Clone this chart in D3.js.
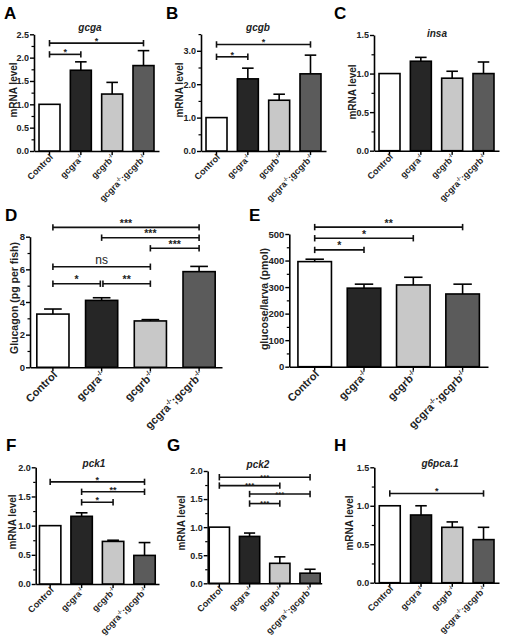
<!DOCTYPE html>
<html><head><meta charset="utf-8">
<script src="https://cdn.jsdelivr.net/npm/d3@7"></script>
<style>
html,body{margin:0;padding:0;background:#fff;}
svg{display:block;}
text{font-family:"Liberation Sans",Arial,sans-serif;}
</style></head>
<body>
<svg id="fig" width="505" height="643"></svg>
<script>
// ---------------- DATA ----------------
const groups = ["Control", "gcgra", "gcgrb", "gcgra;gcgrb"];
// label parts: [text, isSuperscript]
const xLabelParts = [
  [["Control", false]],
  [["gcgra", false], ["-/-", true]],
  [["gcgrb", false], ["-/-", true]],
  [["gcgra", false], ["-/-", true], [";gcgrb", false], ["-/-", true]]
];
const barFills = ["#ffffff", "#262626", "#c8c8c8", "#5b5b5b"];

// A: gcga mRNA
const gcgaMean = [1.00, 1.73, 1.22, 1.83];
const gcgaErr  = [0.00, 0.18, 0.25, 0.32];
const gcgaSig  = [[0, 1, 2.07, "*"], [0, 3, 2.31, "*"]];
// B: gcgb mRNA
const gcgbMean = [1.00, 2.16, 1.52, 2.31];
const gcgbErr  = [0.00, 0.32, 0.18, 0.56];
const gcgbSig  = [[0, 1, 2.82, "*"], [0, 3, 3.19, "*"]];
// C: insa mRNA
const insaMean = [1.00, 1.16, 0.94, 1.00];
const insaErr  = [0.00, 0.05, 0.09, 0.15];
const insaSig  = [];
// D: Glucagon (pg per fish)
const glucagonMean = [3.26, 4.10, 2.84, 5.86];
const glucagonErr  = [0.31, 0.16, 0.08, 0.32];
const glucagonSig  = [[0, 3, 8.57, "***"], [1, 3, 7.94, "***"], [2, 3, 7.29, "***"],
                      [0, 2, 6.16, "ns"], [0, 1, 5.12, "*"], [1, 2, 5.12, "**"]];
// E: glucose/larva (pmol)
const glucoseMean = [396, 296, 308, 274];
const glucoseErr  = [9, 15, 29, 37];
const glucoseSig  = [[0, 3, 526, "**"], [0, 2, 484, "*"], [0, 1, 440, "*"]];
// F: pck1 mRNA
const pck1Mean = [1.00, 1.16, 0.73, 0.49];
const pck1Err  = [0.00, 0.06, 0.02, 0.22];
const pck1Sig  = [[0, 3, 1.75, "*"], [1, 3, 1.58, "**"], [1, 2, 1.40, "*"]];
// G: pck2 mRNA
const pck2Mean = [1.00, 0.835, 0.356, 0.18];
const pck2Err  = [0.00, 0.06, 0.115, 0.07];
const pck2Sig  = [[0, 3, 1.89, "***"], [0, 2, 1.74, "***"], [1, 3, 1.59, "***"], [1, 2, 1.42, "***"]];
// H: g6pca.1 mRNA
const g6pcaMean = [1.00, 0.88, 0.72, 0.56];
const g6pcaErr  = [0.00, 0.12, 0.07, 0.16];
const g6pcaSig  = [[0, 3, 1.16, "*"]];

// tick labels
const ticksA = [0, 0.5, 1.0, 1.5, 2.0, 2.5];
const ticksB = [0, 1, 2, 3];
const ticks15 = [0, 0.5, 1.0, 1.5];
const ticksD = [0, 2, 4, 6, 8];
const ticksE = [0, 100, 200, 300, 400, 500];
const ticks20 = [0, 0.5, 1.0, 1.5, 2.0];

// ---------------- PANELS ----------------
const panels = [
  {letter:"A", lx:4, ly:19, title:"gcga", tx:90, ty:31, mean:gcgaMean, err:gcgaErr, sig:gcgaSig,
   yMax:2.5, ticks:ticksA, minorStep:0.25, fmt:".1f", ylabel:"mRNA level", ylx:13, yly:90,
   x0:34, x1:159, yb:151, yt:34.3, pi:0.33, po:0.16, fs:9, xfs:9, sfs:9, sdy:1, yfs:10},
  {letter:"B", lx:166, ly:19, title:"gcgb", tx:258, ty:31, mean:gcgbMean, err:gcgbErr, sig:gcgbSig,
   yMax:3.5, ticks:ticksB, minorStep:0.5, fmt:".1f", ylabel:"mRNA level", ylx:179, yly:90,
   x0:201, x1:326, yb:151, yt:34.1, pi:0.33, po:0.16, fs:9, xfs:9, sfs:9, sdy:1, yfs:10},
  {letter:"C", lx:334, ly:19, title:"insa", tx:437, ty:37, mean:insaMean, err:insaErr, sig:insaSig,
   yMax:1.5, ticks:ticks15, minorStep:0.25, fmt:".1f", ylabel:"mRNA level", ylx:352.5, yly:92,
   x0:374, x1:499, yb:150.7, yt:35, pi:0.33, po:0.16, fs:9, xfs:9, sfs:9, sdy:1, yfs:10},
  {letter:"D", lx:5, ly:221, title:"", mean:glucagonMean, err:glucagonErr, sig:glucagonSig,
   yMax:8, ticks:ticksD, minorStep:1, fmt:"d", ylabel:"Glucagon (pg per fish)", ylx:14, yly:298,
   x0:30, x1:222, yb:367.3, yt:236.7, pi:0.34, po:0.14, fs:9.5, xfs:11, sfs:10.5, sdy:-0.5, yfs:10.5},
  {letter:"E", lx:249, ly:221, title:"", mean:glucoseMean, err:glucoseErr, sig:glucoseSig,
   yMax:500, ticks:ticksE, minorStep:50, fmt:"d", ylabel:"glucose/larva (pmol)", ylx:264, yly:299,
   x0:289.3, x1:488, yb:366.7, yt:234, pi:0.32, po:0.175, fs:9.5, xfs:11, sfs:10.5, sdy:-0.5, yfs:10.5},
  {letter:"F", lx:6, ly:451, title:"pck1", tx:94, ty:467, mean:pck1Mean, err:pck1Err, sig:pck1Sig,
   yMax:2.0, ticks:ticks20, minorStep:0.25, fmt:".1f", ylabel:"mRNA level", ylx:12.5, yly:522,
   x0:35.7, x1:159, yb:584, yt:467.3, pi:0.32, po:0.12, fs:9, xfs:9, sfs:9, sdy:1, yfs:10},
  {letter:"G", lx:167, ly:451, title:"pck2", tx:258, ty:468, mean:pck2Mean, err:pck2Err, sig:pck2Sig,
   yMax:2.0, ticks:ticks20, minorStep:0.25, fmt:".1f", ylabel:"mRNA level", ylx:181, yly:523,
   x0:207.7, x1:321.7, yb:583.3, yt:471, pi:0.33, po:0.05, fs:9, xfs:9, sfs:8, sdy:2.5, yfs:10},
  {letter:"H", lx:334, ly:451, title:"g6pca.1", tx:440, ty:467, mean:g6pcaMean, err:g6pcaErr, sig:g6pcaSig,
   yMax:1.5, ticks:ticks15, minorStep:0.25, fmt:".1f", ylabel:"mRNA level", ylx:349, yly:523,
   x0:374.3, x1:499, yb:582.7, yt:467.3, pi:0.33, po:0.16, fs:9, xfs:9, sfs:9, sdy:1, yfs:10}
];

const svg = d3.select("#fig");
const SW = 1.6;

panels.forEach(p => {
  const g = svg.append("g");
  const x = d3.scaleBand().domain(groups).range([p.x0, p.x1]).paddingInner(p.pi).paddingOuter(p.po);
  const y = d3.scaleLinear().domain([0, p.yMax]).range([p.yb, p.yt]);
  const bw = x.bandwidth();

  // minor ticks
  const minor = d3.range(0, p.yMax + 1e-9, p.minorStep).filter(v => !p.ticks.some(t => Math.abs(t - v) < 1e-9));
  g.append("g").attr("transform", `translate(${p.x0},0)`)
    .call(d3.axisLeft(y).tickValues(minor).tickSize(2.5).tickSizeOuter(0).tickFormat(""))
    .call(a => a.select(".domain").remove())
    .call(a => a.selectAll("line").attr("stroke-width", 1.2));
  // major y axis
  const fmt = d3.format(p.fmt);
  g.append("g").attr("transform", `translate(${p.x0},0)`)
    .call(d3.axisLeft(y).tickValues(p.ticks).tickSize(4).tickSizeOuter(0).tickFormat(fmt).tickPadding(1))
    .call(a => a.select(".domain").attr("stroke-width", SW))
    .call(a => a.selectAll("line").attr("stroke-width", 1.4))
    .call(a => a.selectAll("text").attr("font-size", p.fs).attr("font-weight", "bold")
      .attr("font-family", '"Liberation Sans",Arial,sans-serif').attr("fill", "#222"));
  // x axis
  g.append("g").attr("transform", `translate(0,${p.yb})`)
    .call(d3.axisBottom(x).tickSize(4).tickSizeOuter(0).tickFormat(""))
    .call(a => a.select(".domain").attr("stroke-width", SW))
    .call(a => a.selectAll("line").attr("stroke-width", 1.4));

  // bars
  g.selectAll("rect.bar").data(groups).join("rect")
    .attr("class", "bar")
    .attr("x", d => x(d)).attr("width", bw)
    .attr("y", (d, i) => y(p.mean[i]))
    .attr("height", (d, i) => y(0) - y(p.mean[i]))
    .attr("fill", (d, i) => barFills[i])
    .attr("stroke", "#000").attr("stroke-width", SW);

  // error bars (upper)
  const cap = bw * 0.55;
  groups.forEach((d, i) => {
    if (!p.err[i]) return;
    const cx = x(d) + bw / 2;
    const top = y(p.mean[i] + p.err[i]);
    g.append("line").attr("x1", cx).attr("x2", cx).attr("y1", y(p.mean[i])).attr("y2", top)
      .attr("stroke", "#000").attr("stroke-width", SW);
    g.append("line").attr("x1", cx - cap / 2).attr("x2", cx + cap / 2).attr("y1", top).attr("y2", top)
      .attr("stroke", "#000").attr("stroke-width", SW);
  });

  // significance brackets
  p.sig.forEach(s => {
    const [i, j, h, lab] = s;
    let xa = x(groups[i]) + bw / 2, xb = x(groups[j]) + bw / 2;
    // separate brackets sharing an endpoint at the same height
    p.sig.forEach(o => {
      if (o === s || Math.abs(o[2] - h) > 1e-9) return;
      if (o[1] === i) xa += 1.3;
      if (o[0] === j) xb -= 1.3;
    });
    const yy = y(h);
    g.append("line").attr("x1", xa).attr("x2", xb).attr("y1", yy).attr("y2", yy)
      .attr("stroke", "#111").attr("stroke-width", SW);
    [xa, xb].forEach(xx => g.append("line").attr("x1", xx).attr("x2", xx)
      .attr("y1", yy - 3.2).attr("y2", yy + 3.2).attr("stroke", "#111").attr("stroke-width", SW));
    const isNs = lab === "ns";
    g.append("text").attr("x", (xa + xb) / 2).attr("y", isNs ? yy - 3 : yy + p.sdy)
      .attr("text-anchor", "middle")
      .attr("font-size", isNs ? p.sfs + 1.5 : p.sfs)
      .attr("font-weight", isNs ? "normal" : "bold")
      .attr("fill", "#222").text(lab);
  });

  // x labels
  groups.forEach((d, i) => {
    const cx = x(d) + bw / 2;
    const t = g.append("text")
      .attr("transform", `translate(${cx + p.xfs * 0.45},${p.yb + p.xfs * 0.75}) rotate(-45)`)
      .attr("text-anchor", "end").attr("font-size", p.xfs).attr("font-weight", "bold").attr("fill", "#222");
    let raised = false;
    xLabelParts[i].forEach(([txt, sup]) => {
      const ts = t.append("tspan").text(txt);
      if (sup && !raised) { ts.attr("font-size", p.xfs * 0.6).attr("dy", -p.xfs * 0.4); raised = true; }
      else if (!sup && raised) { ts.attr("dy", p.xfs * 0.4); raised = false; }
      else if (sup) ts.attr("font-size", p.xfs * 0.6);
    });
  });

  // y label
  g.append("text").attr("transform", `translate(${p.ylx},${p.yly}) rotate(-90)`)
    .attr("text-anchor", "middle").attr("dy", "0.35em")
    .attr("font-size", p.yfs).attr("font-weight", "bold").attr("fill", "#222").text(p.ylabel);

  // title
  if (p.title) g.append("text").attr("x", p.tx).attr("y", p.ty).attr("text-anchor", "middle")
    .attr("font-size", 10).attr("font-weight", "bold").attr("font-style", "italic").attr("fill", "#222").text(p.title);

  // panel letter
  g.append("text").attr("x", p.lx).attr("y", p.ly)
    .attr("font-family", '"Liberation Serif","Times New Roman",serif')
    .attr("font-size", 17).attr("font-weight", "bold").attr("fill", "#000").text(p.letter);
});
</script>
</body></html>
